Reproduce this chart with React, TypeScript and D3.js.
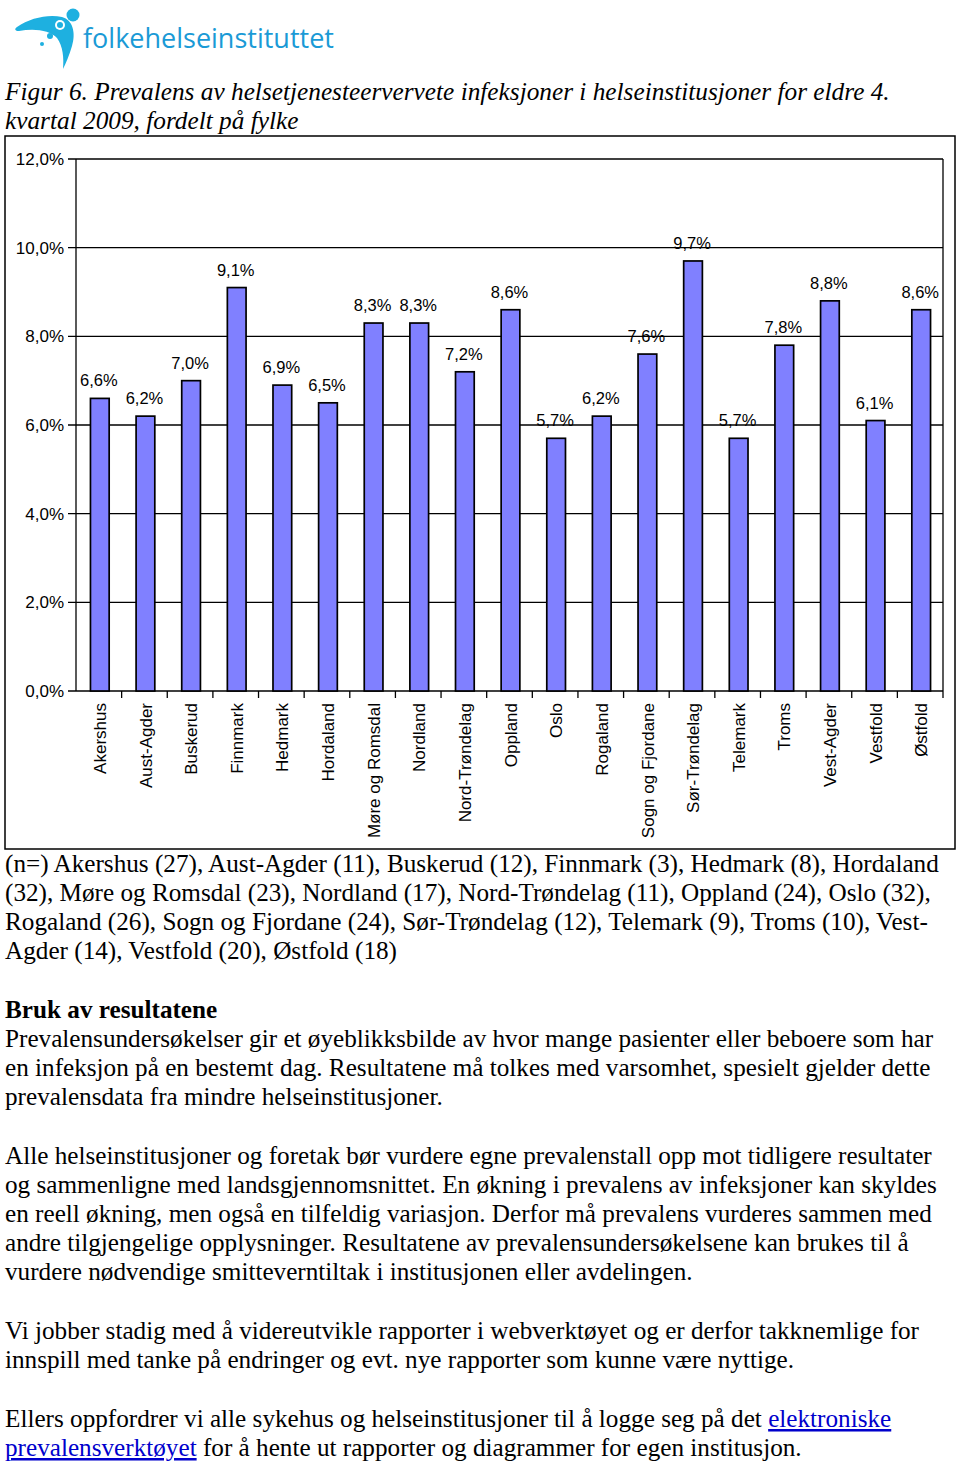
import React from "react";
import * as d3 from "d3";

const categories = [
  "Akershus", "Aust-Agder", "Buskerud", "Finnmark", "Hedmark", "Hordaland",
  "Møre og Romsdal", "Nordland", "Nord-Trøndelag", "Oppland", "Oslo", "Rogaland",
  "Sogn og Fjordane", "Sør-Trøndelag", "Telemark", "Troms", "Vest-Agder", "Vestfold", "Østfold",
];
const prevalence = [6.6, 6.2, 7.0, 9.1, 6.9, 6.5, 8.3, 8.3, 7.2, 8.6, 5.7, 6.2, 7.6, 9.7, 5.7, 7.8, 8.8, 6.1, 8.6];
const yTicks = [0, 2, 4, 6, 8, 10, 12];

const titleLines = [
  "Figur 6. Prevalens av helsetjenesteervervete infeksjoner i helseinstitusjoner for eldre 4.",
  "kvartal 2009, fordelt på fylke",
];
const nLines = [
  "(n=) Akershus (27), Aust-Agder (11), Buskerud (12), Finnmark (3), Hedmark (8), Hordaland",
  "(32), Møre og Romsdal (23), Nordland (17), Nord-Trøndelag (11), Oppland (24), Oslo (32),",
  "Rogaland (26), Sogn og Fjordane (24), Sør-Trøndelag (12), Telemark (9), Troms (10), Vest-",
  "Agder (14), Vestfold (20), Østfold (18)",
];
const heading = "Bruk av resultatene";
const para1 = [
  "Prevalensundersøkelser gir et øyeblikksbilde av hvor mange pasienter eller beboere som har",
  "en infeksjon på en bestemt dag. Resultatene må tolkes med varsomhet, spesielt gjelder dette",
  "prevalensdata fra mindre helseinstitusjoner.",
];
const para2 = [
  "Alle helseinstitusjoner og foretak bør vurdere egne prevalenstall opp mot tidligere resultater",
  "og sammenligne med landsgjennomsnittet. En økning i prevalens av infeksjoner kan skyldes",
  "en reell økning, men også en tilfeldig variasjon. Derfor må prevalens vurderes sammen med",
  "andre tilgjengelige opplysninger. Resultatene av prevalensundersøkelsene kan brukes til å",
  "vurdere nødvendige smitteverntiltak i institusjonen eller avdelingen.",
];
const para3 = [
  "Vi jobber stadig med å videreutvikle rapporter i webverktøyet og er derfor takknemlige for",
  "innspill med tanke på endringer og evt. nye rapporter som kunne være nyttige.",
];

const W = 960;
const H = 1465;
const plot = { left: 76, right: 943, top: 159, bottom: 691 };
const chartFont = "'Liberation Sans', Arial, sans-serif";
const serif = "'Liberation Serif', 'Times New Roman', serif";
const bodySize = 25.2;

export default function App() {
  const x = d3.scaleBand<string>().domain(categories).range([plot.left, plot.right]).padding(0);
  const y = d3.scaleLinear().domain([0, 12]).range([plot.bottom, plot.top]);
  const barW = x.bandwidth() * 0.41;
  const fmt = (v: number) => v.toFixed(1).replace(".", ",") + "%";

  const bodyLine = (t: string, yy: number, key: string) => (
    <text key={key} x={5} y={yy} fontFamily={serif} fontSize={bodySize} fill="#000">
      {t}
    </text>
  );

  return (
    <svg width={W} height={H} style={{ position: "absolute", left: 0, top: 0, background: "#fff" }}>
      {/* logo */}
      <g>
        <path
          d="M17,27 C30,18 48,14 62,17 C73,20 76,33 72,46 C69,56 66,63 63,69 C64,58 63,46 57,38 C50,30 34,28 19,31 C15,31 14,29 17,27 Z"
          fill="#1EB0E0"
        />
        <circle cx={60} cy={25} r={5} fill="#fff" />
        <circle cx={60} cy={25} r={3} fill="#1EB0E0" />
        <circle cx={73} cy={15} r={6.5} fill="#1EB0E0" />
        <circle cx={50} cy={36} r={3} fill="#1EB0E0" />
        <circle cx={42} cy={44} r={2} fill="#1EB0E0" />
        <text x={83} y={48} fontFamily="'Open Sans', 'DejaVu Sans', sans-serif" fontSize={27} fill="#1A9AD6">
          folkehelseinstituttet
        </text>
      </g>

      {/* title */}
      {titleLines.map((t, i) => (
        <text key={"t" + i} x={5} y={100 + i * 29} fontFamily={serif} fontStyle="italic" fontSize={25.3} fill="#000">
          {t}
        </text>
      ))}

      {/* chart frame */}
      <rect x={5} y={136} width={950} height={713} fill="#fff" stroke="#000" strokeWidth={1.5} />

      {/* gridlines */}
      {yTicks.map((t) => (
        <g key={"g" + t}>
          <line x1={plot.left - 8} x2={plot.right} y1={y(t)} y2={y(t)} stroke="#000" strokeWidth={1.3} />
          <text x={64} y={y(t)} dy="0.36em" textAnchor="end" fontFamily={chartFont} fontSize={17} fill="#000">
            {fmt(t)}
          </text>
        </g>
      ))}
      <line x1={plot.left} x2={plot.left} y1={plot.top} y2={plot.bottom} stroke="#000" strokeWidth={1.3} />
      <line x1={plot.right} x2={plot.right} y1={plot.top} y2={plot.bottom} stroke="#000" strokeWidth={1.3} />

      {/* x ticks */}
      {categories.map((c) => (
        <line key={"xt" + c} x1={(x(c) as number) + x.bandwidth()} x2={(x(c) as number) + x.bandwidth()} y1={plot.bottom} y2={plot.bottom + 7} stroke="#000" strokeWidth={1.3} />
      ))}

      {/* bars */}
      {categories.map((c, i) => {
        const cx = (x(c) as number) + x.bandwidth() / 2 + 1;
        return (
          <g key={"b" + c}>
            <rect x={cx - barW / 2} y={y(prevalence[i])} width={barW} height={y(0) - y(prevalence[i])} fill="#8080FF" stroke="#000" strokeWidth={1.7} />
            <text x={cx - 1} y={y(prevalence[i]) - 12} textAnchor="middle" fontFamily={chartFont} fontSize={16.5} fill="#000">
              {fmt(prevalence[i])}
            </text>
            <text
              transform={`translate(${cx},${plot.bottom + 12}) rotate(-90)`}
              textAnchor="end"
              dy="0.36em"
              fontFamily={chartFont}
              fontSize={17}
              fill="#000"
            >
              {c}
            </text>
          </g>
        );
      })}

      {/* n= text */}
      {nLines.map((t, i) => bodyLine(t, 872 + i * 29, "n" + i))}

      <text x={5} y={1018} fontFamily={serif} fontWeight="bold" fontSize={bodySize} fill="#000">
        {heading}
      </text>
      {para1.map((t, i) => bodyLine(t, 1047 + i * 29, "p1" + i))}
      {para2.map((t, i) => bodyLine(t, 1164 + i * 29, "p2" + i))}
      {para3.map((t, i) => bodyLine(t, 1339 + i * 29, "p3" + i))}

      <text x={5} y={1427} fontFamily={serif} fontSize={bodySize} fill="#000">
        Ellers oppfordrer vi alle sykehus og helseinstitusjoner til å logge seg på det{" "}
        <tspan fill="#0000CC" textDecoration="underline">elektroniske</tspan>
      </text>
      <text x={5} y={1456} fontFamily={serif} fontSize={bodySize} fill="#000">
        <tspan fill="#0000CC" textDecoration="underline">prevalensverktøyet</tspan> for å hente ut rapporter og diagrammer for egen institusjon.
      </text>
    </svg>
  );
}
